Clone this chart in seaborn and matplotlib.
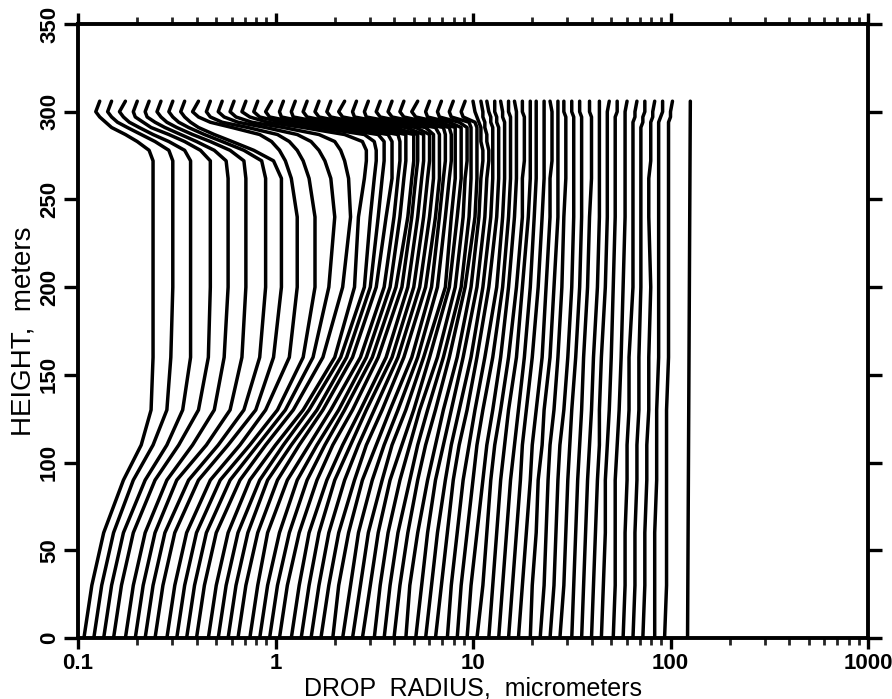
import matplotlib
matplotlib.use("Agg")
import matplotlib.pyplot as plt
import pandas as pd
import seaborn as sns
from matplotlib.ticker import FixedLocator, FixedFormatter, NullFormatter

heights_m = [0, 30, 60, 90, 110, 130, 160, 200, 240, 262, 272, 278, 283, 287, 291, 294, 297, 300, 306]

# log10(drop radius / micrometer) of every trajectory at each height, left to right
log_r_h000 = [-0.97, -0.92, -0.87, -0.82, -0.76, -0.71, -0.66, -0.61, -0.55, -0.50, -0.45, -0.40, -0.34, -0.29, -0.24, -0.19, -0.13, -0.08, -0.03, 0.02, 0.08, 0.13, 0.18, 0.23, 0.29, 0.34, 0.39, 0.44, 0.50, 0.55, 0.60, 0.66, 0.71, 0.76, 0.81, 0.87, 0.92, 0.97, 1.02, 1.08, 1.13, 1.18, 1.23, 1.29, 1.34, 1.39, 1.44, 1.50, 1.55, 1.60, 1.65, 1.71, 1.76, 1.81, 1.86, 1.92, 1.97]
log_r_h030 = [-0.93, -0.88, -0.83, -0.78, -0.72, -0.67, -0.62, -0.57, -0.51, -0.46, -0.41, -0.36, -0.30, -0.25, -0.20, -0.15, -0.09, -0.04, 0.01, 0.06, 0.12, 0.17, 0.22, 0.27, 0.32, 0.38, 0.43, 0.48, 0.53, 0.58, 0.63, 0.68, 0.74, 0.79, 0.84, 0.89, 0.94, 0.99, 1.05, 1.10, 1.15, 1.20, 1.25, 1.30, 1.36, 1.41, 1.46, 1.51, 1.56, 1.61, 1.66, 1.72, 1.77, 1.82, 1.87, 1.92, 1.98]
log_r_h060 = [-0.87, -0.82, -0.77, -0.72, -0.66, -0.61, -0.56, -0.51, -0.45, -0.40, -0.35, -0.30, -0.24, -0.19, -0.14, -0.09, -0.04, 0.02, 0.07, 0.12, 0.17, 0.22, 0.27, 0.32, 0.37, 0.42, 0.47, 0.52, 0.57, 0.62, 0.67, 0.72, 0.77, 0.82, 0.87, 0.92, 0.97, 1.02, 1.07, 1.12, 1.17, 1.22, 1.27, 1.32, 1.37, 1.42, 1.47, 1.52, 1.57, 1.62, 1.67, 1.72, 1.77, 1.82, 1.87, 1.92, 1.98]
log_r_h090 = [-0.77, -0.72, -0.66, -0.61, -0.55, -0.50, -0.44, -0.39, -0.33, -0.28, -0.23, -0.18, -0.13, -0.08, -0.04, 0.01, 0.06, 0.11, 0.16, 0.21, 0.26, 0.30, 0.35, 0.40, 0.44, 0.49, 0.54, 0.58, 0.63, 0.68, 0.72, 0.77, 0.81, 0.86, 0.90, 0.95, 1.00, 1.05, 1.09, 1.14, 1.19, 1.24, 1.29, 1.33, 1.38, 1.43, 1.48, 1.53, 1.58, 1.63, 1.67, 1.72, 1.78, 1.83, 1.88, 1.93, 1.98]
log_r_h110 = [-0.68, -0.62, -0.55, -0.49, -0.42, -0.35, -0.29, -0.24, -0.18, -0.13, -0.09, -0.05, 0.00, 0.04, 0.08, 0.12, 0.17, 0.21, 0.25, 0.29, 0.34, 0.38, 0.42, 0.46, 0.51, 0.55, 0.59, 0.64, 0.68, 0.72, 0.76, 0.81, 0.85, 0.89, 0.93, 0.98, 1.02, 1.07, 1.11, 1.16, 1.21, 1.25, 1.30, 1.35, 1.39, 1.44, 1.49, 1.54, 1.59, 1.64, 1.68, 1.73, 1.78, 1.83, 1.88, 1.93, 1.98]
log_r_h130 = [-0.63, -0.55, -0.47, -0.39, -0.31, -0.23, -0.16, -0.10, -0.05, 0.01, 0.05, 0.09, 0.14, 0.17, 0.21, 0.24, 0.28, 0.32, 0.35, 0.39, 0.43, 0.46, 0.50, 0.54, 0.58, 0.62, 0.66, 0.70, 0.73, 0.77, 0.81, 0.85, 0.89, 0.93, 0.97, 1.01, 1.05, 1.10, 1.14, 1.18, 1.23, 1.27, 1.32, 1.36, 1.41, 1.46, 1.50, 1.55, 1.60, 1.64, 1.69, 1.74, 1.79, 1.84, 1.89, 1.93, 1.98]
log_r_h160 = [-0.62, -0.53, -0.43, -0.34, -0.26, -0.17, -0.08, -0.01, 0.07, 0.14, 0.19, 0.24, 0.30, 0.33, 0.36, 0.39, 0.43, 0.46, 0.49, 0.52, 0.56, 0.59, 0.62, 0.65, 0.69, 0.72, 0.75, 0.78, 0.82, 0.85, 0.88, 0.92, 0.95, 0.99, 1.02, 1.06, 1.10, 1.14, 1.18, 1.22, 1.26, 1.30, 1.35, 1.39, 1.43, 1.48, 1.52, 1.56, 1.61, 1.65, 1.70, 1.75, 1.79, 1.84, 1.89, 1.94, 1.99]
log_r_h200 = [-0.62, -0.52, -0.43, -0.33, -0.24, -0.15, -0.05, 0.03, 0.11, 0.20, 0.27, 0.34, 0.40, 0.45, 0.48, 0.51, 0.55, 0.58, 0.61, 0.64, 0.67, 0.70, 0.73, 0.76, 0.79, 0.82, 0.86, 0.88, 0.91, 0.94, 0.96, 0.99, 1.02, 1.05, 1.08, 1.12, 1.15, 1.18, 1.22, 1.25, 1.29, 1.33, 1.37, 1.41, 1.45, 1.50, 1.54, 1.58, 1.63, 1.67, 1.71, 1.76, 1.81, 1.85, 1.90, 1.94, 1.99]
log_r_h240 = [-0.62, -0.52, -0.43, -0.33, -0.24, -0.15, -0.05, 0.03, 0.11, 0.20, 0.30, 0.38, 0.42, 0.48, 0.52, 0.56, 0.60, 0.63, 0.67, 0.69, 0.72, 0.75, 0.78, 0.81, 0.83, 0.86, 0.89, 0.92, 0.95, 0.98, 1.01, 1.03, 1.06, 1.09, 1.12, 1.15, 1.18, 1.21, 1.25, 1.28, 1.31, 1.35, 1.39, 1.43, 1.46, 1.51, 1.55, 1.59, 1.64, 1.68, 1.72, 1.77, 1.81, 1.85, 1.89, 1.94, 1.99]
log_r_h262 = [-0.62, -0.52, -0.43, -0.33, -0.24, -0.15, -0.05, 0.03, 0.08, 0.17, 0.28, 0.37, 0.45, 0.50, 0.54, 0.59, 0.62, 0.65, 0.69, 0.71, 0.74, 0.77, 0.80, 0.83, 0.85, 0.88, 0.91, 0.94, 0.96, 0.99, 1.02, 1.04, 1.07, 1.10, 1.13, 1.16, 1.19, 1.22, 1.25, 1.29, 1.32, 1.36, 1.39, 1.43, 1.47, 1.51, 1.55, 1.60, 1.64, 1.68, 1.72, 1.77, 1.81, 1.85, 1.89, 1.94, 1.99]
log_r_h272 = [-0.62, -0.52, -0.43, -0.33, -0.25, -0.16, -0.07, -0.01, 0.05, 0.14, 0.25, 0.35, 0.46, 0.51, 0.55, 0.59, 0.63, 0.66, 0.70, 0.72, 0.75, 0.78, 0.80, 0.83, 0.86, 0.89, 0.91, 0.94, 0.97, 0.99, 1.02, 1.05, 1.08, 1.10, 1.13, 1.16, 1.19, 1.22, 1.26, 1.29, 1.32, 1.36, 1.40, 1.43, 1.47, 1.51, 1.55, 1.60, 1.64, 1.68, 1.72, 1.77, 1.81, 1.85, 1.90, 1.94, 1.99]
log_r_h278 = [-0.64, -0.54, -0.46, -0.38, -0.31, -0.23, -0.16, -0.11, 0.02, 0.11, 0.22, 0.33, 0.46, 0.51, 0.55, 0.59, 0.63, 0.66, 0.70, 0.72, 0.75, 0.78, 0.80, 0.83, 0.86, 0.89, 0.91, 0.94, 0.97, 0.99, 1.02, 1.05, 1.08, 1.10, 1.13, 1.16, 1.19, 1.22, 1.26, 1.29, 1.32, 1.36, 1.40, 1.43, 1.47, 1.51, 1.55, 1.60, 1.64, 1.68, 1.72, 1.77, 1.81, 1.85, 1.90, 1.94, 1.99]
log_r_h283 = [-0.70, -0.61, -0.54, -0.46, -0.40, -0.33, -0.27, -0.22, -0.02, 0.07, 0.18, 0.30, 0.44, 0.50, 0.55, 0.59, 0.63, 0.66, 0.70, 0.72, 0.75, 0.78, 0.80, 0.83, 0.86, 0.89, 0.91, 0.94, 0.97, 0.99, 1.02, 1.04, 1.07, 1.10, 1.13, 1.16, 1.19, 1.22, 1.26, 1.29, 1.32, 1.36, 1.40, 1.43, 1.47, 1.51, 1.55, 1.60, 1.64, 1.68, 1.72, 1.77, 1.81, 1.85, 1.90, 1.94, 1.99]
log_r_h287 = [-0.76, -0.68, -0.62, -0.54, -0.48, -0.42, -0.36, -0.31, -0.08, 0.01, 0.11, 0.22, 0.35, 0.45, 0.52, 0.57, 0.62, 0.66, 0.70, 0.72, 0.75, 0.78, 0.80, 0.83, 0.86, 0.89, 0.91, 0.94, 0.97, 0.99, 1.02, 1.04, 1.07, 1.10, 1.13, 1.16, 1.19, 1.22, 1.26, 1.29, 1.32, 1.36, 1.40, 1.43, 1.47, 1.51, 1.55, 1.60, 1.64, 1.68, 1.72, 1.77, 1.81, 1.85, 1.90, 1.94, 1.99]
log_r_h291 = [-0.83, -0.75, -0.69, -0.63, -0.56, -0.50, -0.44, -0.39, -0.22, -0.14, -0.05, 0.04, 0.14, 0.22, 0.29, 0.36, 0.42, 0.49, 0.55, 0.60, 0.66, 0.71, 0.76, 0.81, 0.85, 0.88, 0.91, 0.94, 0.97, 0.99, 1.02, 1.04, 1.06, 1.10, 1.13, 1.16, 1.19, 1.22, 1.26, 1.29, 1.32, 1.36, 1.40, 1.43, 1.47, 1.51, 1.55, 1.60, 1.64, 1.68, 1.72, 1.77, 1.81, 1.85, 1.90, 1.94, 1.99]
log_r_h294 = [-0.86, -0.80, -0.74, -0.67, -0.61, -0.55, -0.49, -0.43, -0.33, -0.27, -0.19, -0.12, -0.04, 0.03, 0.10, 0.16, 0.23, 0.29, 0.35, 0.41, 0.48, 0.54, 0.60, 0.66, 0.72, 0.77, 0.83, 0.88, 0.93, 0.98, 1.01, 1.03, 1.06, 1.09, 1.12, 1.16, 1.19, 1.22, 1.26, 1.29, 1.32, 1.36, 1.40, 1.43, 1.47, 1.51, 1.55, 1.60, 1.64, 1.68, 1.72, 1.77, 1.81, 1.86, 1.90, 1.94, 1.99]
log_r_h297 = [-0.89, -0.83, -0.77, -0.71, -0.65, -0.58, -0.52, -0.46, -0.39, -0.33, -0.26, -0.20, -0.13, -0.08, -0.03, 0.03, 0.09, 0.16, 0.22, 0.28, 0.34, 0.40, 0.46, 0.53, 0.59, 0.65, 0.71, 0.77, 0.83, 0.89, 0.95, 1.02, 1.05, 1.09, 1.12, 1.15, 1.19, 1.22, 1.26, 1.29, 1.32, 1.36, 1.40, 1.43, 1.47, 1.51, 1.55, 1.60, 1.64, 1.68, 1.72, 1.77, 1.82, 1.86, 1.91, 1.95, 2.00]
log_r_h300 = [-0.91, -0.85, -0.79, -0.72, -0.66, -0.60, -0.54, -0.48, -0.42, -0.35, -0.29, -0.23, -0.17, -0.11, -0.05, 0.02, 0.08, 0.14, 0.20, 0.26, 0.32, 0.39, 0.45, 0.51, 0.57, 0.63, 0.69, 0.76, 0.82, 0.88, 0.94, 1.01, 1.05, 1.08, 1.11, 1.15, 1.18, 1.22, 1.25, 1.29, 1.32, 1.36, 1.40, 1.43, 1.46, 1.50, 1.54, 1.59, 1.64, 1.68, 1.73, 1.77, 1.82, 1.87, 1.91, 1.96, 2.00]
log_r_h306 = [-0.89, -0.83, -0.76, -0.70, -0.64, -0.58, -0.52, -0.46, -0.39, -0.33, -0.27, -0.21, -0.15, -0.09, -0.02, 0.04, 0.10, 0.16, 0.22, 0.28, 0.35, 0.41, 0.47, 0.53, 0.59, 0.65, 0.72, 0.78, 0.84, 0.90, 0.96, 1.00, 1.04, 1.07, 1.11, 1.14, 1.18, 1.21, 1.25, 1.29, 1.32, 1.36, 1.39, 1.43, 1.46, 1.50, 1.54, 1.59, 1.64, 1.69, 1.73, 1.78, 1.83, 1.87, 1.92, 1.96, 2.01]

# The single straight (non-evolving) largest drop
large_drop_height = [0, 306]
large_drop_radius = [122, 126]

x_ticks = [0.1, 1, 10, 100, 1000]
x_tick_labels = ["0.1", "1", "10", "100", "1000"]
y_ticks = [0, 50, 100, 150, 200, 250, 300, 350]

levels = [log_r_h000, log_r_h030, log_r_h060, log_r_h090, log_r_h110, log_r_h130,
          log_r_h160, log_r_h200, log_r_h240, log_r_h262, log_r_h272, log_r_h278,
          log_r_h283, log_r_h287, log_r_h291, log_r_h294, log_r_h297, log_r_h300,
          log_r_h306]

rows = []
for h, lv in zip(heights_m, levels):
    for k, lr in enumerate(lv):
        rows.append({"curve": k, "height": h, "radius": 10 ** lr})
for h, r in zip(large_drop_height, large_drop_radius):
    rows.append({"curve": 999, "height": h, "radius": r})
df = pd.DataFrame(rows).sort_values(["curve", "height"], kind="stable")

sns.set_theme(style="ticks")
FAM = ["Liberation Sans", "DejaVu Sans"]
plt.rcParams["font.family"] = FAM
plt.rcParams["text.color"] = "black"
plt.rcParams["axes.labelcolor"] = "black"

fig = plt.figure(figsize=(8.92, 6.99), dpi=100)
ax = fig.add_axes([78 / 892, 1 - 638 / 699, (868 - 78) / 892, (638 - 24) / 699])
ax.set_xscale("log")

sns.lineplot(data=df, x="radius", y="height", units="curve", estimator=None,
             sort=False, color="black", linewidth=2.5, legend=False, ax=ax)

ax.set_xlim(0.1, 1000)
ax.set_ylim(0, 350)

ax.xaxis.set_major_locator(FixedLocator(x_ticks))
ax.xaxis.set_major_formatter(FixedFormatter(x_tick_labels))
minor = [m * 10.0 ** e for e in range(-1, 3) for m in range(2, 10)]
ax.xaxis.set_minor_locator(FixedLocator(minor))
ax.xaxis.set_minor_formatter(NullFormatter())
ax.yaxis.set_major_locator(FixedLocator(y_ticks))
ax.set_yticklabels([str(v) for v in y_ticks], rotation=90, va="center")

for s in ax.spines.values():
    s.set_linewidth(2.8)
    s.set_color("black")

ax.tick_params(axis="both", which="major", direction="out", length=8, width=2.4,
               top=True, right=True, colors="black", labelsize=16, pad=3)
ax.tick_params(axis="x", which="minor", direction="out", length=5, width=2.0,
               top=True, bottom=True)
ax.tick_params(axis="y", which="major", length=10)
for lab in ax.get_xticklabels() + ax.get_yticklabels():
    lab.set_fontweight("bold")
    lab.set_family(FAM)

ax.set_xlabel("DROP  RADIUS,  micrometers", fontsize=18, family=FAM)
ax.xaxis.set_label_coords(0.5, -0.062)
ax.set_ylabel("HEIGHT,  meters", fontsize=20, labelpad=2, family=FAM)
ax.grid(False)

fig.savefig("out.png", dpi=100, facecolor="white")
